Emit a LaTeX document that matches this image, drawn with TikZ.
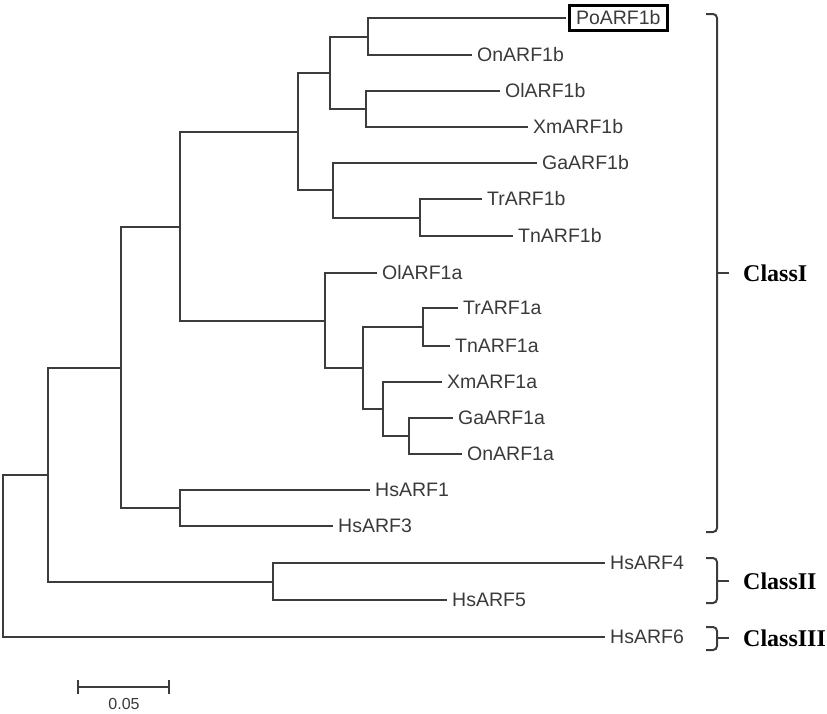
\documentclass[tikz,border=0pt]{standalone}
\usepackage{fontspec}
\setmainfont{Liberation Sans}
\newfontfamily\classfont{Liberation Serif}
\definecolor{treeline}{HTML}{3C3C3C}
\definecolor{labgray}{HTML}{3A3A3A}
\begin{document}
\begin{tikzpicture}[x=1pt,y=-1pt,
  branch/.style={draw=treeline,line width=2pt,line join=miter},
  lab/.style={anchor=west,inner sep=0pt,xshift=5pt,text=labgray,font=\fontsize{19.5}{22}\selectfont},
  boxlab/.style={anchor=west,draw=black,line width=3pt,inner xsep=7pt,inner ysep=5.5pt,xshift=1.5pt,text=labgray,font=\fontsize{19.5}{22}\selectfont},
  classlab/.style={anchor=west,inner sep=0pt,font=\classfont\bfseries\fontsize{24}{28}\selectfont},
  bracket/.style={draw=treeline,line width=2pt,rounded corners=4pt}]
\useasboundingbox (0,0) rectangle (827,713);
% leaf tips
\coordinate (tPo) at (566,18);
\coordinate (tOnB) at (472,55);
\coordinate (tOlB) at (500,91);
\coordinate (tXmB) at (528,127);
\coordinate (tGaB) at (537,163);
\coordinate (tTrB) at (482,199);
\coordinate (tTnB) at (513,236);
\coordinate (tOlA) at (377,273);
\coordinate (tTrA) at (458,308);
\coordinate (tTnA) at (450,346);
\coordinate (tXmA) at (442,382);
\coordinate (tGaA) at (453,418);
\coordinate (tOnA) at (462,454);
\coordinate (tHs1) at (370,490);
\coordinate (tHs3) at (333,526);
\coordinate (tHs4) at (605,563);
\coordinate (tHs5) at (447,600);
\coordinate (tHs6) at (605,637);
% labels
\node[boxlab] (lPo) at (tPo) {PoARF1b};
\node[lab] (lOnB) at (tOnB) {OnARF1b};
\node[lab] (lOlB) at (tOlB) {OlARF1b};
\node[lab] (lXmB) at (tXmB) {XmARF1b};
\node[lab] (lGaB) at (tGaB) {GaARF1b};
\node[lab] (lTrB) at (tTrB) {TrARF1b};
\node[lab] (lTnB) at (tTnB) {TnARF1b};
\node[lab] (lOlA) at (tOlA) {OlARF1a};
\node[lab] (lTrA) at (tTrA) {TrARF1a};
\node[lab] (lTnA) at (tTnA) {TnARF1a};
\node[lab] (lXmA) at (tXmA) {XmARF1a};
\node[lab] (lGaA) at (tGaA) {GaARF1a};
\node[lab] (lOnA) at (tOnA) {OnARF1a};
\node[lab] (lHs1) at (tHs1) {HsARF1};
\node[lab] (lHs3) at (tHs3) {HsARF3};
\node[lab] (lHs4) at (tHs4) {HsARF4};
\node[lab] (lHs5) at (tHs5) {HsARF5};
\node[lab] (lHs6) at (tHs6) {HsARF6};
% internal nodes
\coordinate (nA) at (368,36.5);
\coordinate (nB) at (366,109);
\coordinate (nC) at (330,73);
\coordinate (nD) at (420,217.5);
\coordinate (nE) at (333,190);
\coordinate (nF) at (298,132);
\coordinate (nG) at (423,327);
\coordinate (nH) at (409,436);
\coordinate (nI) at (383,409);
\coordinate (nJ) at (363,368);
\coordinate (nK) at (325,321);
\coordinate (nL) at (180,227);
\coordinate (nM) at (180,508);
\coordinate (nN) at (121,368);
\coordinate (nO) at (273,582);
\coordinate (nP) at (48,475);
\coordinate (nR) at (3,556);
% branches
\draw[branch] (tPo) -| (nA) |- (tOnB);
\draw[branch] (tOlB) -| (nB) |- (tXmB);
\draw[branch] (nA) -| (nC) |- (nB);
\draw[branch] (tTrB) -| (nD) |- (tTnB);
\draw[branch] (tGaB) -| (nE) |- (nD);
\draw[branch] (nC) -| (nF) |- (nE);
\draw[branch] (tTrA) -| (nG) |- (tTnA);
\draw[branch] (tGaA) -| (nH) |- (tOnA);
\draw[branch] (tXmA) -| (nI) |- (nH);
\draw[branch] (nG) -| (nJ) |- (nI);
\draw[branch] (tOlA) -| (nK) |- (nJ);
\draw[branch] (nF) -| (nL) |- (nK);
\draw[branch] (tHs1) -| (nM) |- (tHs3);
\draw[branch] (nL) -| (nN) |- (nM);
\draw[branch] (tHs4) -| (nO) |- (tHs5);
\draw[branch] (nN) -| (nP) |- (nO);
\draw[branch] (nP) -| (nR) |- (tHs6);
% scale bar
\coordinate (sL) at (78,687);
\coordinate (sR) at (169,687);
\draw[branch] (sL) -- (sR);
\draw[branch] ([yshift=-7pt]sL) -- ([yshift=7pt]sL);
\draw[branch] ([yshift=-7pt]sR) -- ([yshift=7pt]sR);
\node[text=labgray,font=\fontsize{16}{19}\selectfont,inner sep=0pt] (scl) at (124,704) {0.05};
% brackets
\draw[bracket] (706,14) -- (717,14) -- (717,532) -- (706,532);
\coordinate (b1) at (717,273);
\draw[branch] (b1) -- ++(12,0) coordinate (b1t);
\node[classlab] (c1) at (743,273) {ClassI};
\draw[bracket] (706,558) -- (717,558) -- (717,603) -- (706,603);
\coordinate (b2) at (717,581);
\draw[branch] (b2) -- ++(12,0) coordinate (b2t);
\node[classlab] (c2) at (743,581) {ClassII};
\draw[bracket] (706,627) -- (717,627) -- (717,650) -- (706,650);
\coordinate (b3) at (717,638);
\draw[branch] (b3) -- ++(12,0) coordinate (b3t);
\node[classlab] (c3) at (743,638) {ClassIII};
\end{tikzpicture}
\end{document}
